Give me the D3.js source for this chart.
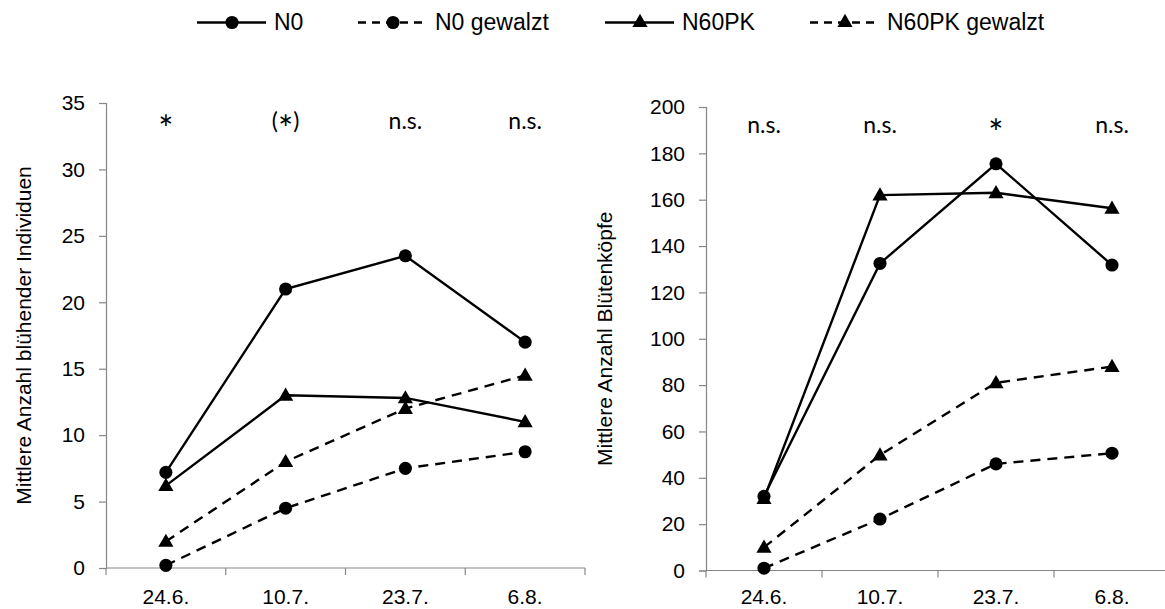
<!DOCTYPE html>
<html>
<head>
<meta charset="utf-8">
<script src="https://cdn.jsdelivr.net/npm/d3@7"></script>
<style>
  body { margin: 0; background: #fff; }
  svg { display: block; font-family: "Liberation Sans", Arial, sans-serif; }
</style>
</head>
<body>
<svg width="1165" height="609"></svg>
<script>
// Sampling dates (x categories)
const dates = ['24.6.', '10.7.', '23.7.', '6.8.'];

// Left panel: mean number of flowering individuals
const indN0 = [7.2, 21.0, 23.5, 17.0];
const indN0Rolled = [0.2, 4.5, 7.5, 8.75];
const indN60PK = [6.2, 13.0, 12.8, 11.0];
const indN60PKRolled = [2.0, 8.0, 12.0, 14.5];
const indSignif = ['*', '(*)', 'n.s.', 'n.s.'];
const indTicks = [0, 5, 10, 15, 20, 25, 30, 35];

// Right panel: mean number of flower heads
const headN0 = [32, 132.5, 175.5, 131.8];
const headN0Rolled = [1, 22.2, 46, 50.6];
const headN60PK = [31, 162, 163, 156.3];
const headN60PKRolled = [10, 49.8, 81, 88];
const headSignif = ['n.s.', 'n.s.', '*', 'n.s.'];
const headTicks = [0, 20, 40, 60, 80, 100, 120, 140, 160, 180, 200];

const seriesNames = ['N0', 'N0 gewalzt', 'N60PK', 'N60PK gewalzt'];
const seriesStyle = [
    { dash: null, marker: d3.symbolCircle },
    { dash: '10,7', marker: d3.symbolCircle },
    { dash: null, marker: d3.symbolTriangle },
    { dash: '10,7', marker: d3.symbolTriangle }
];

const svg = d3.select('svg');
const axisGrey = '#868686';

const markerPath = (type) => d3.symbol().type(type).size(type === d3.symbolCircle ? 135 : 100)();

function drawPanel(opts) {
    const x = d3.scaleBand().domain(dates).range([opts.left, opts.right]);
    const y = d3.scaleLinear().domain([0, opts.max]).range([opts.bottom, opts.top]);

    // y axis
    const yAxis = svg.append('g')
        .attr('transform', `translate(${opts.left},0)`)
        .call(d3.axisLeft(y).tickValues(opts.ticks).tickSize(7).tickPadding(14));
    // x axis, ticks go on the category boundaries
    const xAxis = svg.append('g')
        .attr('transform', `translate(0,${opts.bottom})`)
        .call(d3.axisBottom(x).tickSize(0).tickPadding(opts.xPad));

    [yAxis, xAxis].forEach(a => {
        a.select('.domain').attr('stroke', axisGrey).attr('stroke-width', 1.2);
        a.selectAll('.tick line').attr('stroke', axisGrey).attr('stroke-width', 1.2);
        a.selectAll('.tick text').attr('fill', '#000').style('font-size', '21px');
    });
    xAxis.select('.domain').attr('d', `M${opts.left},0H${opts.right}`);

    const bounds = dates.map(d => x(d)).concat([opts.right]);
    xAxis.selectAll('.bound').data(bounds).join('line')
        .attr('x1', d => d).attr('x2', d => d)
        .attr('y1', 0).attr('y2', 7)
        .attr('stroke', axisGrey).attr('stroke-width', 1.2);

    // y label
    svg.append('text')
        .attr('transform', `translate(${opts.labelX},${(opts.top + opts.bottom) / 2}) rotate(-90)`)
        .attr('text-anchor', 'middle')
        .style('font-size', '21px')
        .text(opts.label);

    const cx = d => x(d) + x.bandwidth() / 2;
    const line = d3.line().x((d, i) => cx(dates[i])).y(d => y(d));

    opts.series.forEach((vals, si) => {
        const st = seriesStyle[si];
        svg.append('path')
            .attr('d', line(vals))
            .attr('fill', 'none')
            .attr('stroke', '#000')
            .attr('stroke-width', 2.4)
            .attr('stroke-dasharray', st.dash);
        svg.append('g').selectAll('path').data(vals).join('path')
            .attr('d', markerPath(st.marker))
            .attr('transform', (d, i) => `translate(${cx(dates[i])},${y(d) + (st.marker === d3.symbolTriangle ? 1 : 0)})`)
            .attr('fill', '#000');
    });

    // significance labels; the asterisk gets a bigger glyph, shifted down with dy
    const sig = svg.append('g').selectAll('text').data(opts.signif).join('text')
        .attr('x', (d, i) => cx(dates[i]))
        .attr('y', opts.top + 26)
        .attr('text-anchor', 'middle')
        .style('font-family', 'Lato, "Open Sans", sans-serif')
        .style('font-size', '23px');
    sig.each(function(d) {
        const t = d3.select(this);
        let shifted = false;
        d.split('').forEach(ch => {
            const span = t.append('tspan').text(ch);
            if (ch === '*') {
                span.attr('dy', 13).style('font-size', '36px');
                shifted = true;
            } else if (shifted) {
                span.attr('dy', -13);
                shifted = false;
            }
        });
    });
}

drawPanel({
    left: 106, right: 585, top: 103, bottom: 568, max: 35, xPad: 21,
    ticks: indTicks, label: 'Mittlere Anzahl blühender Individuen', labelX: 31,
    series: [indN0, indN0Rolled, indN60PK, indN60PKRolled], signif: indSignif
});

drawPanel({
    left: 706, right: 1170, top: 107, bottom: 570.5, max: 200, xPad: 19,
    ticks: headTicks, label: 'Mittlere Anzahl Blütenköpfe', labelX: 612,
    series: [headN0, headN0Rolled, headN60PK, headN60PKRolled], signif: headSignif
});

// legend
const legendX = [197, 358, 605, 810];
const legend = svg.append('g').selectAll('g').data(seriesNames).join('g')
    .attr('transform', (d, i) => `translate(${legendX[i]},22.5)`);
legend.append('line')
    .attr('x1', 0).attr('x2', 69).attr('y1', 0).attr('y2', 0)
    .attr('stroke', '#000').attr('stroke-width', 2.4)
    .attr('stroke-dasharray', (d, i) => seriesStyle[i].dash ? '8,6' : null);
legend.append('path')
    .attr('d', (d, i) => markerPath(seriesStyle[i].marker))
    .attr('transform', 'translate(35,0)');
legend.append('text')
    .attr('x', 77).attr('y', 7.5)
    .style('font-size', '23px')
    .text(d => d);
</script>
</body>
</html>
